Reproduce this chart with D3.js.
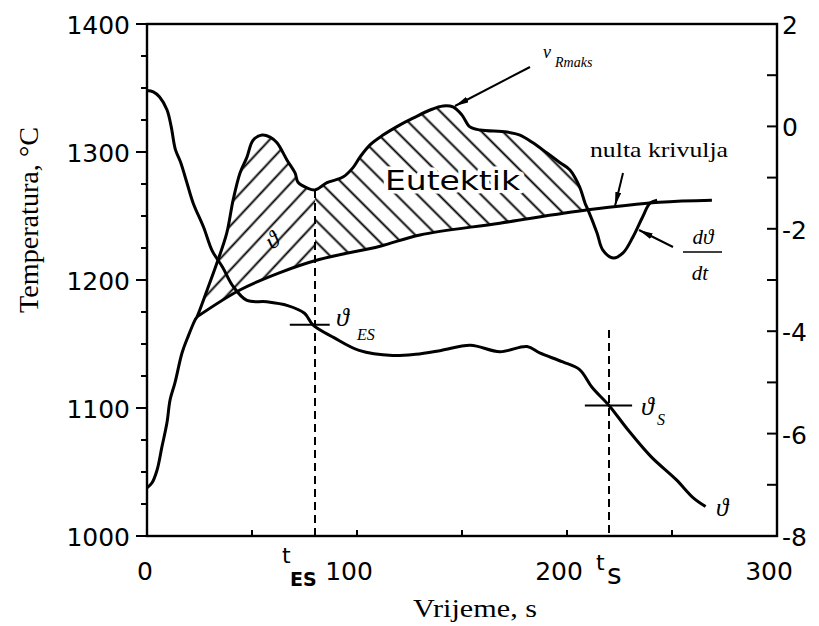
<!DOCTYPE html>
<html><head><meta charset="utf-8">
<script src="https://cdn.jsdelivr.net/npm/d3@7"></script>
<style>body{margin:0;background:#fff}</style>
</head><body>
<svg id="c" width="819" height="626"></svg>
<script>
// ---------- data ----------
const timeLabels = [0, 100, 200, 300];
const timeMinorTicks = [50, 100, 150, 200, 250];
const tempLabels = [1000, 1100, 1200, 1300, 1400];
const tempMinorTicks = [1000,1025,1050,1075,1100,1125,1150,1175,1200,1225,1250,1275,1300,1325,1350,1375,1400];
const rateLabels = [2, 0, -2, -4, -6, -8];
const rateMinorTicks = [2, 1, 0, -1, -2, -3, -4, -5, -6, -7, -8];

// cooling curve (temperature, °C)
const tempTime  = [0, 3, 6, 9.5, 11.5, 13.5, 16, 19, 22, 27, 31, 36, 41, 47.6, 57, 67, 75, 79, 89, 101, 117, 128, 140, 154, 168, 181, 187, 198, 206, 212, 220, 229, 240, 252, 260, 266];
const tempValue = [1348, 1347, 1343, 1333, 1320, 1302, 1292, 1276, 1260, 1241, 1223, 1210, 1195, 1184, 1183, 1180, 1174, 1165, 1155, 1145, 1141, 1142, 1145, 1149, 1144, 1148, 1143, 1136, 1130, 1116, 1102, 1083, 1062, 1044, 1030, 1023];

// derivative dϑ/dt
const rateTime  = [0, 2.4, 4.8, 7.1, 9.5, 11, 13.3, 16.7, 19.5, 22.9, 23.8, 28.6, 33.3, 38, 41, 44.3, 47.6, 50.5, 54.8, 58.6, 61.9, 66.7, 70.5, 71.9, 76.2, 80, 85.7, 93.3, 98, 101.4, 106.2, 112.4, 120.5, 126.7, 134.8, 141, 145.7, 150, 153.8, 158.6, 171.4, 177.6, 183.8, 190.5, 196.7, 201.4, 206, 208.6, 210, 214.3, 217, 222, 226.7, 231.4, 236, 239.5, 242.9];
const rateValue = [-7.06, -6.96, -6.71, -6.26, -5.79, -5.34, -5.01, -4.42, -4.11, -3.78, -3.72, -3.2, -2.67, -2.08, -1.44, -0.91, -0.6, -0.27, -0.17, -0.21, -0.32, -0.66, -0.91, -1.09, -1.2, -1.24, -1.1, -0.99, -0.81, -0.6, -0.36, -0.17, 0.03, 0.16, 0.32, 0.40, 0.38, 0.22, -0.01, -0.07, -0.11, -0.17, -0.32, -0.52, -0.71, -0.85, -1.18, -1.5, -1.63, -2.08, -2.41, -2.57, -2.47, -2.16, -1.77, -1.5, -1.44];

// zero curve (nulta krivulja)
const zeroTime  = [23.8, 44, 63, 82, 111, 130, 168, 210, 244, 269];
const zeroValue = [-3.72, -3.2, -2.86, -2.6, -2.34, -2.12, -1.89, -1.63, -1.48, -1.44];

// characteristic points
const startTime = 23.8;   // start of solidification (branch point)
const tES = 80;           // start of eutectic solidification
const tEnd = 210;         // end of solidification (curve meets zero curve)
const tS = 220;           // solidus time
const thetaES = 1165, thetaS = 1102;
const tSDashTop = 1161;

// ---------- layout ----------
const svg = d3.select("#c");
const L = 147, R = 777, T = 24, B = 536;
const x = d3.scaleLinear().domain([0, 300]).range([L, R]);
const yT = d3.scaleLinear().domain([1000, 1400]).range([B, T]);
const yV = d3.scaleLinear().domain([-8, 2]).range([B, T]);

const sans = "'DejaVu Sans', Verdana, sans-serif";
const serif = "'Liberation Serif', 'Times New Roman', 'DejaVu Serif', serif";

const zip = (a, b) => a.map((v, i) => [v, b[i]]);
const temp = zip(tempTime, tempValue);
const rate = zip(rateTime, rateValue);
const zero = zip(zeroTime, zeroValue);

function interp(series, t) {
  for (let i = 0; i < series.length - 1; i++) {
    const [t0, v0] = series[i], [t1, v1] = series[i + 1];
    if (t >= t0 && t <= t1) return v0 + (v1 - v0) * (t - t0) / (t1 - t0);
  }
  return series[series.length - 1][1];
}

// ---------- hatch patterns ----------
const defs = svg.append("defs");
function hatch(id, angle) {
  const p = defs.append("pattern").attr("id", id).attr("patternUnits", "userSpaceOnUse")
    .attr("width", 15).attr("height", 15).attr("patternTransform", `rotate(${angle})`);
  p.append("line").attr("x1", -1).attr("x2", 16).attr("y1", 7.5).attr("y2", 7.5)
    .attr("stroke", "#000").attr("stroke-width", 1.9);
}
hatch("hL", -47);
hatch("hR", 45);
const mk = defs.append("marker").attr("id", "arr").attr("viewBox", "0 0 14 6")
  .attr("refX", 14).attr("refY", 3).attr("markerWidth", 14).attr("markerHeight", 6)
  .attr("markerUnits", "userSpaceOnUse").attr("orient", "auto");
mk.append("path").attr("d", "M0,0 L14,3 L0,6 Z").attr("fill", "#000");

const lineV = d3.line().x(d => x(d[0])).y(d => yV(d[1])).curve(d3.curveCatmullRom.alpha(0.5));
const lineT = d3.line().x(d => x(d[0])).y(d => yT(d[1])).curve(d3.curveCatmullRom.alpha(0.5));

function region(t0, t1) {
  const up = [[t0, interp(rate, t0)], ...rate.filter(d => d[0] > t0 && d[0] < t1), [t1, interp(rate, t1)]];
  const lo = [[t0, interp(zero, t0)], ...zero.filter(d => d[0] > t0 && d[0] < t1), [t1, interp(zero, t1)]].reverse();
  return lineV(up) + "L" + lineV(lo).slice(1) + "Z";
}
svg.append("path").attr("d", region(startTime, tES)).attr("fill", "url(#hL)");
svg.append("path").attr("d", region(tES, tEnd)).attr("fill", "url(#hR)");

// ---------- frame & axes ----------
const g = svg.append("g").attr("stroke", "#000").attr("fill", "none");
g.append("rect").attr("x", L).attr("y", T).attr("width", R - L).attr("height", B - T).attr("stroke-width", 2.4);
g.selectAll(".lt").data(tempMinorTicks).join("line")
  .attr("x1", d => tempLabels.includes(d) ? L - 11 : L - 6).attr("x2", L)
  .attr("y1", d => yT(d)).attr("y2", d => yT(d)).attr("stroke-width", 2);
g.selectAll(".rt").data(rateMinorTicks).join("line")
  .attr("x1", R - 10).attr("x2", R)
  .attr("y1", d => yV(d)).attr("y2", d => yV(d)).attr("stroke-width", 2);
g.selectAll(".bt").data(timeMinorTicks).join("line")
  .attr("x1", d => x(d)).attr("x2", d => x(d))
  .attr("y1", B - 6).attr("y2", B).attr("stroke-width", 2);

const tl = svg.append("g").attr("font-family", sans).attr("font-size", 25).attr("fill", "#000");
tl.selectAll(".ly").data(tempLabels).join("text")
  .attr("x", L - 17).attr("y", d => yT(d) + 10).attr("text-anchor", "end").text(d => d);
tl.selectAll(".ry").data(rateLabels).join("text")
  .attr("x", R + 5).attr("y", d => yV(d) + 10).attr("text-anchor", "start").text(d => d);
tl.selectAll(".bx").data(timeLabels).join("text")
  .attr("x", d => x(d) - (d === 0 ? 2 : 8)).attr("y", B + 44).attr("text-anchor", "middle").text(d => d);

// axis titles
svg.append("text").attr("transform", "translate(38,220) rotate(-90)")
  .attr("text-anchor", "middle").attr("font-family", serif).attr("font-size", 27)
  .attr("textLength", 186).attr("lengthAdjust", "spacingAndGlyphs").text("Temperatura, °C");
svg.append("text").attr("x", 413).attr("y", 617)
  .attr("font-family", serif).attr("font-size", 26)
  .attr("textLength", 124).attr("lengthAdjust", "spacingAndGlyphs").text("Vrijeme, s");

// ---------- dashed markers ----------
svg.append("line").attr("x1", x(tES)).attr("x2", x(tES))
  .attr("y1", yV(interp(rate, tES))).attr("y2", B)
  .attr("stroke", "#000").attr("stroke-width", 2).attr("stroke-dasharray", "8,5");
svg.append("line").attr("x1", x(tS)).attr("x2", x(tS))
  .attr("y1", yT(tSDashTop)).attr("y2", B)
  .attr("stroke", "#000").attr("stroke-width", 2).attr("stroke-dasharray", "8,5");

// ---------- curves ----------
svg.append("path").attr("d", lineT(temp)).attr("fill", "none").attr("stroke", "#000").attr("stroke-width", 3);
svg.append("path").attr("d", lineV(rate)).attr("fill", "none").attr("stroke", "#000").attr("stroke-width", 3);
svg.append("path").attr("d", lineV(zero)).attr("fill", "none").attr("stroke", "#000").attr("stroke-width", 3);

// cross marks at ϑES and ϑS
svg.append("line").attr("x1", x(68)).attr("x2", x(87)).attr("y1", yT(thetaES)).attr("y2", yT(thetaES))
  .attr("stroke", "#000").attr("stroke-width", 2);
svg.append("line").attr("x1", x(208.5)).attr("x2", x(231)).attr("y1", yT(thetaS)).attr("y2", yT(thetaS))
  .attr("stroke", "#000").attr("stroke-width", 2);

// ---------- annotations ----------
const ann = svg.append("g").attr("fill", "#000");
ann.append("text").attr("x", 385).attr("y", 190).attr("font-family", sans).attr("font-size", 26)
  .attr("textLength", 135).attr("lengthAdjust", "spacingAndGlyphs")
  .attr("stroke", "#fff").attr("stroke-width", 7).attr("paint-order", "stroke").attr("stroke-linejoin", "round")
  .text("Eutektik");
ann.append("text").attr("x", 590).attr("y", 157).attr("font-family", serif).attr("font-size", 22)
  .attr("textLength", 138).attr("lengthAdjust", "spacingAndGlyphs").text("nulta krivulja");

ann.append("text").attr("x", 543).attr("y", 58).attr("font-family", serif).attr("font-style", "italic").attr("font-size", 18).text("v");
ann.append("text").attr("x", 555).attr("y", 67).attr("font-family", serif).attr("font-style", "italic").attr("font-size", 14).text("Rmaks");

ann.append("text").attr("x", 336).attr("y", 326).attr("font-family", serif).attr("font-style", "italic").attr("font-size", 26).text("ϑ");
ann.append("text").attr("x", 357).attr("y", 340).attr("font-family", serif).attr("font-style", "italic").attr("font-size", 16).text("ES");
ann.append("text").attr("x", 641).attr("y", 415).attr("font-family", serif).attr("font-style", "italic").attr("font-size", 26).text("ϑ");
ann.append("text").attr("x", 657).attr("y", 425).attr("font-family", serif).attr("font-style", "italic").attr("font-size", 16).text("S");
ann.append("text").attr("x", 716).attr("y", 516).attr("font-family", serif).attr("font-style", "italic").attr("font-size", 25).text("ϑ");
ann.append("text").attr("transform", "translate(272,250) rotate(-35)").attr("font-family", serif)
  .attr("font-style", "italic").attr("font-size", 24).text("ϑ");

ann.append("text").attr("x", 703).attr("y", 244).attr("text-anchor", "middle").attr("font-family", serif).attr("font-style", "italic").attr("font-size", 21).text("dϑ");
ann.append("line").attr("x1", 683).attr("x2", 722).attr("y1", 252).attr("y2", 252).attr("stroke", "#000").attr("stroke-width", 1.5);
ann.append("text").attr("x", 700).attr("y", 280).attr("text-anchor", "middle").attr("font-family", serif).attr("font-style", "italic").attr("font-size", 21).text("dt");

ann.append("text").attr("x", 282).attr("y", 563).attr("font-family", sans).attr("font-size", 22).text("t");
ann.append("text").attr("x", 290).attr("y", 586).attr("font-family", sans).attr("font-weight", "bold").attr("font-size", 19).text("ES");
ann.append("text").attr("x", 596).attr("y", 570).attr("font-family", sans).attr("font-size", 22).text("t");
ann.append("text").attr("x", 607).attr("y", 584).attr("font-family", sans).attr("font-size", 28).text("s");

const arrows = [
  [530, 67, 455, 106],
  [623, 173, 615, 206],
  [673, 247, 639, 230]
];
svg.selectAll(".arw").data(arrows).join("line")
  .attr("x1", d => d[0]).attr("y1", d => d[1]).attr("x2", d => d[2]).attr("y2", d => d[3])
  .attr("stroke", "#000").attr("stroke-width", 2).attr("marker-end", "url(#arr)");
</script>
</body></html>
